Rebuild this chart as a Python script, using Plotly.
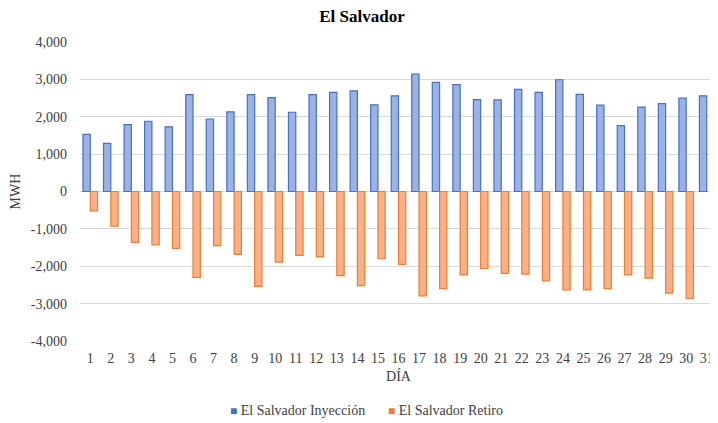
import plotly.graph_objects as go

dias = list(range(1, 32))
inyeccion = [1530, 1290, 1790, 1880, 1730, 2590, 1940, 2130, 2590, 2510,
             2120, 2590, 2650, 2690, 2320, 2560, 3140, 2920, 2860, 2460,
             2450, 2730, 2650, 2990, 2600, 2310, 1760, 2260, 2350, 2500, 2560]
retiro = [-520, -930, -1360, -1430, -1520, -2300, -1450, -1680, -2540, -1890,
          -1710, -1750, -2250, -2520, -1800, -1950, -2790, -2600, -2230, -2060,
          -2190, -2210, -2390, -2630, -2630, -2600, -2230, -2320, -2720, -2870, None]
y_ticks = [-4000, -3000, -2000, -1000, 0, 1000, 2000, 3000, 4000]
series_names = ["El Salvador Inyección", "El Salvador Retiro"]
fill_colors = ["#9db1e2", "#f6b08a"]
line_colors = ["#4472c4", "#ed7d31"]

font_family = "Liberation Serif, Times New Roman, serif"

fig = go.Figure()
for name, vals, fc, lc in zip(series_names, [inyeccion, retiro], fill_colors, line_colors):
    fig.add_trace(go.Bar(
        x=dias, y=vals, name=name, showlegend=False,
        marker=dict(color=fc, line=dict(color=lc, width=1.2)),
    ))

# legend drawn as text with coloured squares (Excel style)
legend_x = [0.342, 0.574]
for name, fc, lc, lx in zip(series_names, fill_colors, line_colors, legend_x):
    fig.add_annotation(
        xref="paper", yref="paper", x=lx, y=-0.234, xanchor="center", yanchor="middle",
        text=f"<span style='color:{lc};font-size:12px'>■</span> {name}", showarrow=False,
        font=dict(family=font_family, size=14, color="#404040"),
    )

fig.update_layout(
    width=710, height=415,
    margin=dict(l=72, r=1, t=34, b=82, autoexpand=False),
    paper_bgcolor="white", plot_bgcolor="white",
    font=dict(family=font_family, size=14, color="#404040"),
    title=dict(text="<b>El Salvador</b>", x=0.4986, xanchor="center",
               y=0.981, yanchor="middle", automargin=False,
               font=dict(family=font_family, size=17, color="#000000")),
    barmode="group", bargap=0.29, bargroupgap=0,
    showlegend=False,
    xaxis=dict(
        tickmode="array", tickvals=dias, ticktext=[str(d) for d in dias],
        range=[0.5, 31.5], showgrid=False, zeroline=False, showline=False,
        ticks="", ticklabelstandoff=7, automargin=False,
        title=dict(text="DÍA", standoff=6, font=dict(size=14, color="#404040")),
    ),
    yaxis=dict(
        range=[-4000, 4000], tickmode="array", tickvals=y_ticks,
        ticktext=[f"{v:,}" for v in y_ticks],
        showgrid=True, gridcolor="#d9d9d9", gridwidth=1,
        zeroline=True, zerolinecolor="#d9d9d9", zerolinewidth=1,
        showline=False, ticks="", ticklabelstandoff=12, automargin=False,
        title=dict(text="MWH", standoff=10, font=dict(size=14, color="#404040")),
    ),
)

fig.write_html("out.html")
